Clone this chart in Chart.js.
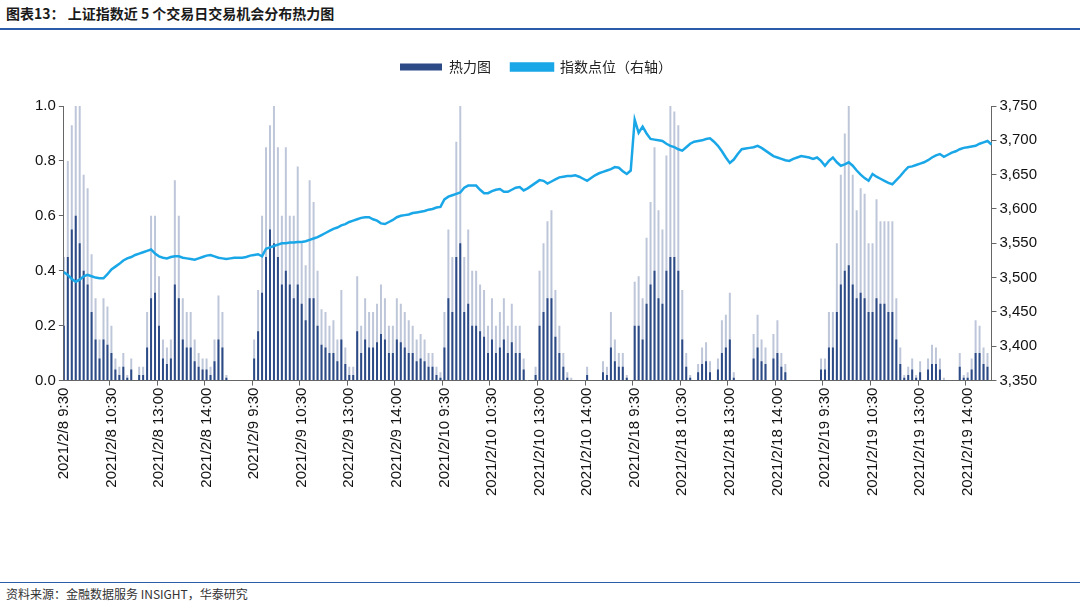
<!DOCTYPE html>
<html>
<head>
<meta charset="utf-8">
<script src="https://cdn.jsdelivr.net/npm/chart.js@4"></script>
<style>
  body { margin: 0; width: 1080px; height: 608px; background: #fff; font-family: "Noto Sans CJK SC", sans-serif; position: relative; overflow: hidden; }
  #title { position: absolute; left: 6px; top: 3px; font-size: 14px; font-weight: bold; color: #1a1a1a; z-index: 2; }
  #topline { position: absolute; left: 0; right: 0; top: 28px; height: 2px; background: #2a5caa; z-index: 2; }
  #wrap { position: absolute; left: 0; top: 30px; width: 1080px; height: 548px; }
  #botline { position: absolute; left: 0; right: 0; top: 582px; height: 1px; background: #2a5caa; }
  #source { position: absolute; left: 6px; top: 585px; font-size: 12px; color: #333; }
</style>
</head>
<body>
<div id="title">图表13： 上证指数近 5 个交易日交易机会分布热力图</div>
<div id="topline"></div>
<div id="wrap"><canvas id="heatChart" width="1080" height="548"></canvas></div>
<div id="botline"></div>
<div id="source">资料来源：金融数据服务 INSIGHT，华泰研究</div>
<script>
// 5-minute buckets, each day 48 buckets (last day truncated)
const days = ["2021/2/8", "2021/2/9", "2021/2/10", "2021/2/18", "2021/2/19"];
const hourLabels = ["9:30", "10:30", "13:00", "14:00"];
const bucketsPerDay = [48, 48, 48, 48, 43];

const heatPeak = [
    0.45,0.8,0.93,1.0,1.0,0.75,0.7,0.46,0.3,0.15, 0.3,0.27,0.2,0.08,0.05,0.1,0.02,0.08,0,0.05,
    0.05,0.25,0.6,0.6,0.38,0.15,0.12,0.15,0.73,0.6, 0.3,0.25,0.25,0.15,0.1,0.08,0.08,0.05,0.15,0.31,
    0.25,0.02,0,0,0,0,0,0,
    0.15,0.33,0.6,0.85,0.93,1.0,0.85,0.6,0.85,0.6, 0.6,0.78,0.5,0.42,0.73,0.65,0.4,0.26,0.25,0.2,
    0.22,0.15,0.33,0.12,0.05,0.05,0.38,0.2,0.3,0.25, 0.25,0.28,0.35,0.3,0.2,0.2,0.3,0.28,0.25,0.22,
    0.2,0.15,0.17,0.15,0.1,0.1,0.05,0.03,
    0.25,0.55,0.45,0.87,1.0,0.45,0.55,0.4,0.4,0.35, 0.33,0.2,0.3,0.2,0.25,0.3,0.2,0.28,0.2,0.2,
    0.08,0,0,0.05,0.4,0.5,0.58,0.62,0.33,0.2, 0.1,0.03,0.01,0,0,0,0.05,0,0,0,
    0.07,0.05,0.25,0.15,0.1,0.1,0.02,0,
    0.36,0.38,0.3,0.52,0.65,0.85,0.62,0.55,0.82,1.0, 0.98,0.93,0.33,0.1,0.02,0,0.06,0.12,0.14,0.07,
    0,0.08,0.22,0.24,0.32,0.03,0,0,0,0, 0.17,0.24,0.15,0.12,0,0.17,0.22,0.1,0.06,0,
    0,0,0,0,0,0,0,0.08,
    0.08,0.25,0.25,0.5,0.75,0.9,1.0,0.75,0.62,0.7, 0.68,0.5,0.5,0.66,0.58,0.58,0.58,0.58,0.3,0.12,
    0.02,0.05,0.08,0.02,0.07,0,0.08,0.13,0.12,0.08, 0.01,0,0,0,0.1,0.02,0.03,0.08,0.22,0.2,
    0.12,0.1,0
];

const heatAvg = [
    0.2,0.45,0.55,0.6,0.5,0.4,0.35,0.25,0.15,0.08, 0.15,0.13,0.1,0.04,0.02,0.05,0.01,0.04,0,0.02,
    0.02,0.12,0.3,0.32,0.2,0.08,0.06,0.08,0.35,0.3, 0.15,0.12,0.12,0.07,0.05,0.04,0.04,0.02,0.07,0.15,
    0.12,0.01,0,0,0,0,0,0,
    0.08,0.18,0.32,0.45,0.55,0.5,0.45,0.35,0.4,0.35, 0.3,0.35,0.28,0.22,0.3,0.3,0.2,0.13,0.12,0.1,
    0.1,0.07,0.15,0.06,0.02,0.02,0.18,0.1,0.15,0.12, 0.12,0.14,0.17,0.15,0.1,0.1,0.15,0.14,0.12,0.1,
    0.1,0.07,0.08,0.07,0.05,0.05,0.02,0.01,
    0.12,0.3,0.25,0.45,0.5,0.25,0.28,0.2,0.2,0.18, 0.16,0.1,0.15,0.1,0.12,0.15,0.1,0.14,0.1,0.1,
    0.04,0,0,0.02,0.2,0.25,0.3,0.3,0.16,0.1, 0.05,0.01,0,0,0,0,0.02,0,0,0,
    0.03,0.02,0.12,0.07,0.05,0.05,0.01,0,
    0.2,0.2,0.15,0.28,0.35,0.4,0.3,0.28,0.4,0.45, 0.45,0.4,0.15,0.05,0.01,0,0.03,0.06,0.07,0.03,
    0,0.04,0.1,0.12,0.15,0.01,0,0,0,0, 0.08,0.12,0.07,0.06,0,0.08,0.1,0.05,0.03,0,
    0,0,0,0,0,0,0,0.04,
    0.04,0.12,0.12,0.25,0.35,0.4,0.42,0.35,0.3,0.32, 0.3,0.25,0.25,0.3,0.28,0.28,0.25,0.25,0.15,0.06,
    0.01,0.02,0.04,0.01,0.03,0,0.04,0.06,0.06,0.04, 0,0,0,0,0.05,0.01,0.01,0.04,0.1,0.1,
    0.06,0.05,0
];

const indexLevel = [
    3508,3504,3498,3494,3497,3502,3504,3502,3500,3499, 3499,3505,3512,3516,3520,3525,3528,3530,3533,3535,
    3537,3539,3541,3535,3531,3529,3528,3530,3531,3531, 3529,3528,3527,3526,3528,3530,3532,3533,3531,3529,
    3528,3527,3528,3529,3529,3529,3530,3532,
    3533,3534,3531,3542,3544,3546,3548,3550,3550,3551, 3551,3552,3552,3553,3555,3557,3559,3562,3565,3568,
    3571,3573,3576,3578,3581,3583,3585,3587,3588,3588, 3585,3583,3579,3578,3581,3584,3588,3590,3591,3592,
    3594,3595,3596,3597,3599,3600,3602,3603,
    3614,3618,3620,3622,3624,3631,3634,3634,3634,3628, 3623,3623,3626,3628,3629,3625,3625,3628,3631,3632,
    3627,3630,3634,3638,3642,3641,3637,3640,3643,3646, 3647,3648,3648,3649,3647,3644,3641,3645,3649,3652,
    3654,3656,3658,3661,3660,3655,3651,3656,
    3730,3711,3720,3710,3702,3701,3700,3699,3695,3692, 3690,3687,3685,3690,3695,3698,3699,3700,3702,3703,
    3698,3692,3684,3675,3667,3672,3680,3687,3688,3689, 3690,3692,3689,3685,3681,3677,3675,3673,3671,3670,
    3673,3675,3677,3676,3675,3673,3675,3670,
    3663,3670,3675,3668,3663,3665,3668,3663,3656,3650, 3645,3641,3651,3647,3644,3641,3638,3636,3642,3648,
    3655,3661,3662,3664,3666,3668,3671,3675,3678,3680, 3676,3679,3682,3684,3687,3689,3690,3691,3692,3695,
    3697,3699,3694
];

const labels = [];
days.forEach((d, di) => {
    for (let i = 0; i < bucketsPerDay[di]; i++) {
        labels.push(i % 12 === 0 ? `${d} ${hourLabels[i / 12]}` : "");
    }
});

const tickFont = { family: "Liberation Sans", size: 15 };

// extra room under the legend
const legendGap = {
    id: "legendGap",
    beforeInit(chart) {
        const fit = chart.legend.fit;
        chart.legend.fit = function () {
            fit.bind(chart.legend)();
            this.height += 22;
        };
    }
};

new Chart(document.getElementById("heatChart"), {
    data: {
        labels: labels,
        datasets: [
            {
                type: "line",
                label: "指数点位（右轴）",
                data: indexLevel,
                yAxisID: "y1",
                borderColor: "#1aa7e8",
                backgroundColor: "#1aa7e8",
                borderWidth: 2.5,
                pointRadius: 0,
                tension: 0,
                order: 0
            },
            {
                type: "bar",
                label: "热力图",
                data: heatAvg,
                yAxisID: "y",
                backgroundColor: "#2b4a86",
                grouped: false,
                barPercentage: 0.5,
                categoryPercentage: 1,
                order: 1
            },
            {
                type: "bar",
                label: "peak",
                data: heatPeak,
                yAxisID: "y",
                backgroundColor: "rgba(110,128,170,0.45)",
                grouped: false,
                barPercentage: 0.5,
                categoryPercentage: 1,
                order: 2
            }
        ]
    },
    plugins: [legendGap],
    options: {
        responsive: false,
        animation: false,
        layout: { padding: { left: 32, right: 40, top: 10, bottom: 80 } },
        plugins: {
            legend: {
                position: "top",
                reverse: true,
                labels: {
                    filter: item => item.text !== "peak",
                    boxWidth: 42,
                    boxHeight: 7,
                    padding: 20,
                    color: "#222",
                    font: { family: "Noto Sans CJK SC", size: 14 }
                }
            },
            tooltip: { enabled: false }
        },
        scales: {
            x: {
                offset: false,
                grid: {
                    drawOnChartArea: false,
                    tickLength: 5,
                    color: ctx => (ctx.index % 12 === 0 ? "#666" : "transparent")
                },
                border: { color: "#666" },
                ticks: {
                    autoSkip: false,
                    maxRotation: 90,
                    minRotation: 90,
                    color: "#111",
                    font: tickFont,
                    padding: 2
                }
            },
            y: {
                position: "left",
                min: 0,
                max: 1,
                grid: { drawOnChartArea: false, tickLength: 5, color: "#666" },
                border: { color: "#666" },
                ticks: {
                    stepSize: 0.2,
                    color: "#111",
                    font: tickFont,
                    callback: v => v.toFixed(1)
                }
            },
            y1: {
                position: "right",
                min: 3350,
                max: 3750,
                grid: { drawOnChartArea: false, tickLength: 5, color: "#666" },
                border: { color: "#666" },
                ticks: {
                    stepSize: 50,
                    color: "#111",
                    font: tickFont,
                    callback: v => v.toLocaleString("en-US")
                }
            }
        }
    }
});
</script>
</body>
</html>
